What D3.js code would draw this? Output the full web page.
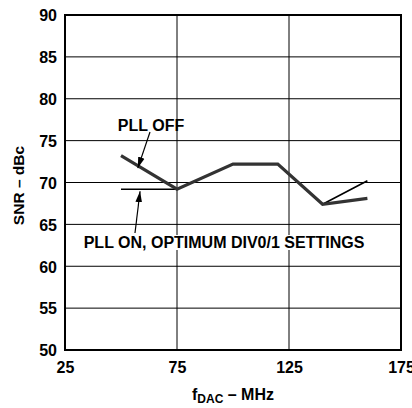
<!DOCTYPE html>
<html>
<head>
<meta charset="utf-8">
<script src="https://cdn.jsdelivr.net/npm/d3@7"></script>
<style>
  html, body { margin: 0; padding: 0; background: #fff; }
  svg { display: block; }
  text { font-family: "Liberation Sans", Arial, Helvetica, sans-serif; font-weight: bold; fill: #000; }
</style>
</head>
<body>
<div id="chart"></div>
<script>
// ---- data ----
const fdac = [50, 75, 100, 120, 140, 160];
const pllOff = [73.2, 69.2, 72.2, 72.2, 67.4, 68.1];
const pllOn = [69.2, 69.2, 72.2, 72.2, 67.4, 70.2];
const xTicks = [25, 75, 125, 175];
const yTicks = [50, 55, 60, 65, 70, 75, 80, 85, 90];
const labelOff = "PLL OFF";
const labelOn = "PLL ON, OPTIMUM DIV0/1 SETTINGS";

const W = 412, H = 408;
const m = { left: 65, right: 11, top: 15, bottom: 58 };
const iw = W - m.left - m.right, ih = H - m.top - m.bottom;
const FONT = "'Liberation Sans', Arial, Helvetica, sans-serif";

const svg = d3.select("#chart").append("svg").attr("width", W).attr("height", H);
const g = svg.append("g").attr("transform", `translate(${m.left},${m.top})`);

const x = d3.scaleLinear().domain([25, 175]).range([0, iw]);
const y = d3.scaleLinear().domain([50, 90]).range([ih, 0]);

// grid
g.append("g").selectAll("line").data(yTicks.slice(1, -1)).join("line")
  .attr("x1", 0).attr("x2", iw).attr("y1", d => y(d)).attr("y2", d => y(d))
  .attr("stroke", "#000").attr("stroke-width", 1);
g.append("g").selectAll("line").data(xTicks.slice(1, -1)).join("line")
  .attr("y1", 0).attr("y2", ih).attr("x1", d => x(d)).attr("x2", d => x(d))
  .attr("stroke", "#000").attr("stroke-width", 1);

// axes (labels only)
const yAxis = d3.axisLeft(y).tickValues(yTicks).tickSize(0).tickPadding(8);
const ya = g.append("g").call(yAxis);
ya.select(".domain").remove();
ya.attr("font-family", null).attr("font-size", null);
ya.selectAll("text").style("font-size", "16px").style("font-family", FONT).attr("dy", "0.36em");

const xAxis = d3.axisBottom(x).tickValues(xTicks).tickSize(0).tickPadding(12);
const xa = g.append("g").attr("transform", `translate(0,${ih})`).call(xAxis);
xa.select(".domain").remove();
xa.attr("font-family", null).attr("font-size", null);
xa.selectAll("text").style("font-size", "16px").style("font-family", FONT);

// lines
const ptsOn = fdac.map((d, i) => [d, pllOn[i]]);
const ptsOff = fdac.map((d, i) => [d, pllOff[i]]);
const line = d3.line().x(d => x(d[0])).y(d => y(d[1]));
g.append("path").datum(ptsOn).attr("d", line).attr("fill", "none")
  .attr("stroke", "#000").attr("stroke-width", 1.6).attr("stroke-linejoin", "miter");
g.append("path").datum(ptsOff).attr("d", line).attr("fill", "none")
  .attr("stroke", "#333").attr("stroke-width", 3.2).attr("stroke-linejoin", "miter");

// annotation label with white background for PLL ON
const onRect = g.append("rect").attr("fill", "#fff");
const onText = g.append("text").attr("x", (84 + 364) / 2 - m.left).attr("y", 248 - m.top)
  .attr("text-anchor", "middle").style("font-size", "16px").text(labelOn);
const bb = onText.node().getBBox();
onRect.attr("x", bb.x - 3).attr("y", bb.y + 1).attr("width", bb.width + 6).attr("height", bb.height - 2);

g.append("text").attr("x", 151 - m.left).attr("y", 130.5 - m.top)
  .attr("text-anchor", "middle").style("font-size", "16px").text(labelOff);

// arrows
svg.append("defs").append("marker").attr("id", "ah").attr("viewBox", "0 0 10 10")
  .attr("refX", 10).attr("refY", 5).attr("markerWidth", 11).attr("markerHeight", 11)
  .attr("markerUnits", "userSpaceOnUse").attr("orient", "auto")
  .append("path").attr("d", "M0,2 L10,5 L0,8 Z").attr("fill", "#000");
// PLL OFF arrow
const offTip = [x(57.5), y(71.6)];
g.append("line").attr("x1", 150 - m.left).attr("y1", 132 - m.top)
  .attr("x2", offTip[0]).attr("y2", offTip[1] - 1)
  .attr("stroke", "#000").attr("stroke-width", 1.2).attr("marker-end", "url(#ah)");
// PLL ON arrow
const onTip = [x(58.5), y(69.2)];
g.append("line").attr("x1", 135 - m.left).attr("y1", 233 - m.top)
  .attr("x2", onTip[0]).attr("y2", onTip[1] + 2)
  .attr("stroke", "#000").attr("stroke-width", 1.2).attr("marker-end", "url(#ah)");

// frame
g.append("rect").attr("x", 0).attr("y", 0).attr("width", iw).attr("height", ih)
  .attr("fill", "none").attr("stroke", "#000").attr("stroke-width", 2);

// axis titles
const xt = svg.append("text").attr("x", m.left + iw / 2).attr("y", 400).attr("text-anchor", "middle").style("font-size", "16px");
xt.append("tspan").text("f");
xt.append("tspan").style("font-size", "12px").attr("dy", 3).text("DAC");
xt.append("tspan").attr("dy", -3).text(" – MHz");

svg.append("text").attr("transform", `translate(24,${m.top + ih / 2 + 3}) rotate(-90)`)
  .attr("text-anchor", "middle").style("font-size", "15.5px").text("SNR – dBc");
</script>
</body>
</html>
